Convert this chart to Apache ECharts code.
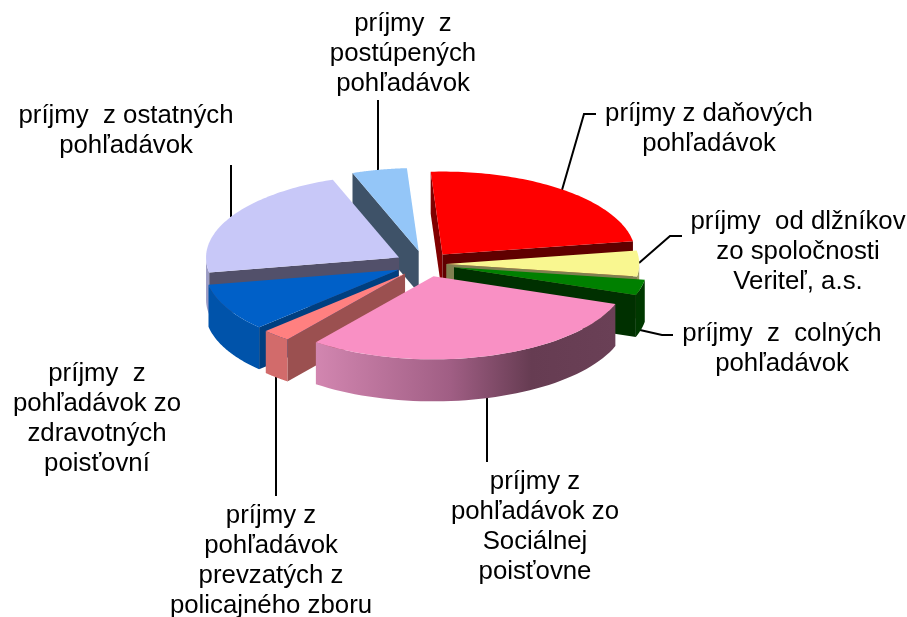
<!DOCTYPE html>
<html>
<head>
<meta charset="utf-8">
<style>
    html, body { margin: 0; padding: 0; background: #fff; }
    #chart { width: 907px; height: 617px; }
</style>
<script src="https://cdn.jsdelivr.net/npm/echarts@6/dist/echarts.min.js"></script>
</head>
<body>
<div id="chart"></div>
<script>
const categories = [
    'príjmy z daňových\npohľadávok',
    'príjmy  od dlžníkov\nzo spoločnosti\nVeriteľ, a.s.',
    'príjmy  z  colných\npohľadávok',
    'príjmy z\npohľadávok zo\nSociálnej\npoisťovne',
    'príjmy z\npohľadávok\nprevzatých z\npolicajného zboru',
    'príjmy  z\npohľadávok zo\nzdravotných\npoisťovní',
    'príjmy  z ostatných\npohľadávok',
    'príjmy  z\npostúpených\npohľadávok'
]
// podiely v %, odčítané z obrázka
const shares = [23.4, 5.0, 3.0, 30.0, 2.4, 9.3, 22.3, 4.6]

const explode = [0.145, 0.11, 0.155, 0.155, 0.155, 0.155, 0.155, 0.16]
const drawOrder = [7, 6, 0, 1, 2, 5, 4, 3]
const topColors = ['#ff0000', '#f9f790', '#008000', '#f990c4', '#ff8080', '#0060c8', '#c8c8f8', '#94c6f8']
const startColors = ['#800000', '#7f7f50', '#004000', '#7c4862', '#9b5050', '#003f80', '#52506a', '#3e5268']
const endColors = ['#600000', '#7f7f50', '#003000', '#7c4862', '#9b5050', '#003f80', '#52506a', '#3e5268']
const rimColors = ['#a00000', '#9a9a60', '#003800', null, '#d26b6b', '#0053aa', '#9c9cc4', '#6f94ba']
const pinkRim = {
    type: 'linear', x: 0, y: 0, x2: 1, y2: 0,
    colorStops: [
        { offset: 0, color: '#d286b0' },
        { offset: 0.45, color: '#a05e84' },
        { offset: 0.72, color: '#663c52' },
        { offset: 1, color: '#6a4056' }
    ]
}

const labelPos = [[709, 129], [798, 252], [782, 349], [535, 527], [271, 561], [97, 419], [126, 131], [403, 54]]
const leaders = [
    [[596, 114], [584, 114], [562, 190]],
    [[682, 236], [670, 236], [639, 263]],
    [[673, 335], [662, 335], [640, 330]],
    [[487, 397], [487, 462]],
    [[276, 377], [276, 496]],
    [[231, 165], [231, 217]],
    [[378, 100], [378, 172]]
]

const cx = 425, cy = 264, rx = 193, ry = 83, depth = 42
const startAngle = -3.5
const total = shares.reduce((a, b) => a + b, 0)

let acc = startAngle
const spans = shares.map(v => {
    let s = acc
    acc += v / total * 360
    return [s, acc]
})

const rad = d => d * Math.PI / 180

const renderSlice = (params, api) => {
    let i = params.dataIndex
    let [a0, a1] = spans[api.value(0)]
    let mid = (a0 + a1) / 2
    let ox = cx + explode[i] * rx * Math.sin(rad(mid))
    let oy = cy - explode[i] * ry * Math.cos(rad(mid))
    let pt = (a, dy = 0) => [ox + rx * Math.sin(rad(a)), oy - ry * Math.cos(rad(a)) + dy]
    let base = drawOrder.indexOf(i) * 10
    let children = []

    const face = (points, fill, z) => children.push({
        type: 'polygon',
        z2: base + z,
        shape: { points },
        style: { fill, stroke: null }
    })

    // koncove steny vyseku, len ked su otocene k divakovi
    if (Math.sin(rad(a0)) < 0) {
        face([[ox, oy], pt(a0), pt(a0, depth), [ox, oy + depth]], startColors[i], 1)
    }
    if (Math.sin(rad(a1)) > 0) {
        face([[ox, oy], pt(a1), pt(a1, depth), [ox, oy + depth]], endColors[i], 1)
    }

    // vonkajsi oblvod, predna polovica
    let from = Math.max(a0, 90), to = Math.min(a1, 270)
    if (to > from) {
        let upper = [], lower = []
        for (let a = from; a <= to + 0.001; a += (to - from) / 48) {
            upper.push(pt(a))
            lower.unshift(pt(a, depth))
        }
        face(upper.concat(lower), i === 3 ? pinkRim : rimColors[i], 2)
    }

    let top = [[ox, oy]]
    for (let k = 0; k <= 72; k++) {
        top.push(pt(a0 + (a1 - a0) * k / 72))
    }
    face(top, topColors[i], 3)

    return { type: 'group', children }
}

const labelFont = '25.8px "Liberation Sans", Arial, sans-serif'

const graphics = []
leaders.forEach(points => {
    graphics.push({
        type: 'polyline',
        z: 1,
        shape: { points },
        style: { stroke: '#000', lineWidth: 2, fill: null }
    })
})
categories.forEach((name, i) => {
    graphics.push({
        type: 'text',
        z: 5,
        x: labelPos[i][0],
        y: labelPos[i][1],
        style: {
            text: name,
            font: labelFont,
            fill: '#000',
            align: 'center',
            verticalAlign: 'middle',
            lineHeight: 30
        }
    })
})

const chart = echarts.init(document.getElementById('chart'), null, { renderer: 'canvas' })
chart.setOption({
    backgroundColor: '#fff',
    animation: false,
    series: [{
        type: 'custom',
        coordinateSystem: 'none',
        z: 3,
        silent: true,
        renderItem: renderSlice,
        data: shares.map((v, i) => [i, v])
    }],
    graphic: graphics
})
</script>
</body>
</html>
